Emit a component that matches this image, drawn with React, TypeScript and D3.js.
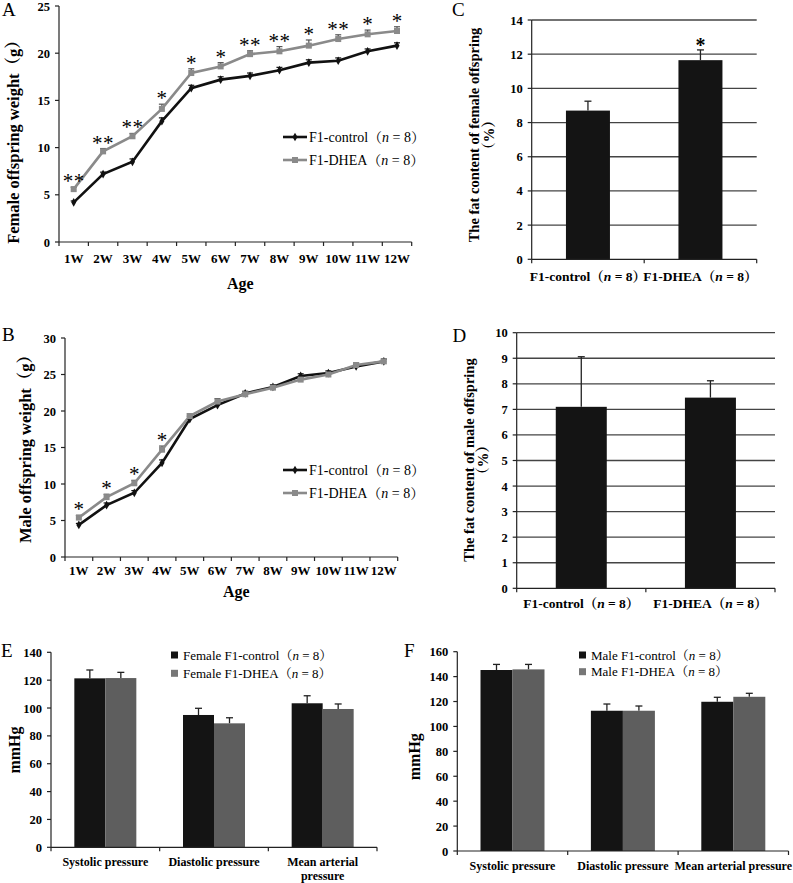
import React from 'react';
import * as d3 from 'd3';

const weeks = ['1W', '2W', '3W', '4W', '5W', '6W', '7W', '8W', '9W', '10W', '11W', '12W'];
const femaleControl = [4.2, 7.2, 8.5, 12.8, 16.3, 17.2, 17.6, 18.2, 19.0, 19.2, 20.2, 20.8];
const femaleControlErr = [0.15, 0.2, 0.3, 0.35, 0.3, 0.3, 0.3, 0.3, 0.3, 0.3, 0.25, 0.3];
const femaleDhea = [5.6, 9.6, 11.2, 14.1, 17.9, 18.6, 19.9, 20.2, 20.8, 21.5, 22.0, 22.35];
const femaleDheaErr = [0.2, 0.3, 0.3, 0.5, 0.45, 0.4, 0.35, 0.5, 0.6, 0.45, 0.45, 0.45];
const femaleStars = ['**', '**', '**', '*', '*', '*', '**', '**', '*', '**', '*', '*'];
const maleControl = [4.4, 7.1, 8.8, 12.9, 18.9, 20.8, 22.4, 23.3, 24.8, 25.2, 26.1, 26.8];
const maleControlErr = [0.2, 0.3, 0.3, 0.4, 0.4, 0.4, 0.3, 0.3, 0.3, 0.3, 0.3, 0.3];
const maleDhea = [5.4, 8.2, 10.1, 14.7, 19.3, 21.3, 22.3, 23.2, 24.3, 25.0, 26.3, 26.8];
const maleDheaErr = [0.3, 0.4, 0.4, 0.5, 0.3, 0.4, 0.3, 0.3, 0.3, 0.3, 0.3, 0.3];
const maleStars = ['*', '*', '*', '*', '', '', '', '', '', '', '', ''];

const fatGroups = ['F1-control', 'F1-DHEA'];
const femaleFat = [8.7, 11.65];
const femaleFatErr = [0.55, 0.6];
const femaleFatStars = ['', '*'];
const maleFat = [7.1, 7.46];
const maleFatErr = [1.96, 0.66];
const maleFatStars = ['', ''];

const bpCategories = ['Systolic pressure', 'Diastolic pressure', 'Mean arterial pressure'];
const femaleBpControl = [121.3, 95, 103.4];
const femaleBpControlErr = [6, 4.8, 5.4];
const femaleBpDhea = [121.5, 89, 99.3];
const femaleBpDheaErr = [4.1, 4, 3.6];
const maleBpControl = [145.3, 112.6, 119.8];
const maleBpControlErr = [4.5, 5.4, 3.6];
const maleBpDhea = [145.8, 112.6, 123.8];
const maleBpDheaErr = [4, 3.8, 2.8];

const FONT = "'Liberation Serif', 'Times New Roman', 'Noto Serif CJK SC', 'Noto Sans CJK SC', serif";
const BLACK = '#111';
const LINE_GREY = '#8a8a8a';
const BAR_GREY = '#5e5e5e';

function NLabel({ prefix }: { prefix: string }) {
  return (
    <>
      {prefix}（<tspan fontStyle="italic">n</tspan> = 8）
    </>
  );
}

type LineProps = {
  x0: number; x1: number; yTop: number; yBottom: number; yMax: number; yStep: number;
  control: number[]; controlErr: number[]; dhea: number[]; dheaErr: number[]; stars: string[];
  title: string; titleX: number; titleY: number; ageY: number; tickLabelY: number;
  legendY: number[]; letter: string; letterY: number; starGap: number;
};

function LineChart(p: LineProps) {
  const x = d3.scaleBand<string>().domain(weeks).range([p.x0, p.x1]).padding(0);
  const y = d3.scaleLinear().domain([0, p.yMax]).range([p.yBottom, p.yTop]);
  const cx = (w: string) => (x(w) as number) + x.bandwidth() / 2;
  const line = d3.line<number>().x((_, i) => cx(weeks[i])).y((v) => y(v));
  const ticks = d3.range(0, p.yMax + 0.001, p.yStep);
  const boundaries = weeks.map((w) => x(w) as number).concat([p.x1]);
  return (
    <g>
      <text x={2} y={p.letterY} fontSize={19} fontFamily={FONT}>{p.letter}</text>
      <line x1={p.x0} x2={p.x0} y1={p.yTop} y2={p.yBottom} stroke="#222" strokeWidth={1.2} />
      <line x1={p.x0} x2={p.x1} y1={p.yBottom} y2={p.yBottom} stroke="#222" strokeWidth={1.2} />
      {ticks.map((t) => (
        <g key={t}>
          <line x1={p.x0 - 4} x2={p.x0} y1={y(t)} y2={y(t)} stroke="#222" strokeWidth={1.2} />
          <text x={p.x0 - 9} y={y(t) + 4.5} textAnchor="end" fontSize={12.5} fontWeight="bold" fontFamily={FONT}>{t}</text>
        </g>
      ))}
      {boundaries.map((b, i) => (
        <line key={i} x1={b} x2={b} y1={p.yBottom} y2={p.yBottom + 4} stroke="#222" strokeWidth={1.2} />
      ))}
      {weeks.map((w) => (
        <text key={w} x={cx(w)} y={p.tickLabelY} textAnchor="middle" fontSize={13} fontWeight="bold" fontFamily={FONT}>{w}</text>
      ))}
      <text x={(p.x0 + p.x1) / 2 + 5} y={p.ageY} textAnchor="middle" fontSize={16} fontWeight="bold" fontFamily={FONT}>Age</text>
      <text transform={`translate(${p.titleX},${p.titleY}) rotate(-90)`} textAnchor="middle" fontSize={16.5} fontWeight="bold" fontFamily={FONT}>{p.title}</text>
      {p.control.map((v, i) => (
        <g key={'ce' + i}>
          <line x1={cx(weeks[i])} x2={cx(weeks[i])} y1={y(v)} y2={y(v + p.controlErr[i])} stroke={BLACK} strokeWidth={1.2} />
          <line x1={cx(weeks[i]) - 3} x2={cx(weeks[i]) + 3} y1={y(v + p.controlErr[i])} y2={y(v + p.controlErr[i])} stroke={BLACK} strokeWidth={1.2} />
        </g>
      ))}
      {p.dhea.map((v, i) => (
        <g key={'de' + i}>
          <line x1={cx(weeks[i])} x2={cx(weeks[i])} y1={y(v)} y2={y(v + p.dheaErr[i])} stroke="#555" strokeWidth={1.2} />
          <line x1={cx(weeks[i]) - 3} x2={cx(weeks[i]) + 3} y1={y(v + p.dheaErr[i])} y2={y(v + p.dheaErr[i])} stroke="#555" strokeWidth={1.2} />
        </g>
      ))}
      <path d={line(p.control) || ''} fill="none" stroke={BLACK} strokeWidth={2.6} />
      <path d={line(p.dhea) || ''} fill="none" stroke={LINE_GREY} strokeWidth={2.6} />
      {p.control.map((v, i) => (
        <path key={'cm' + i} d={d3.symbol(d3.symbolDiamond, 22)() || ''} transform={`translate(${cx(weeks[i])},${y(v)})`} fill={BLACK} />
      ))}
      {p.dhea.map((v, i) => (
        <rect key={'dm' + i} x={cx(weeks[i]) - 3} y={y(v) - 3} width={6} height={6} fill={LINE_GREY} />
      ))}
      {p.stars.map((s, i) => s ? (
        <text key={'s' + i} x={cx(weeks[i])} y={y(p.dhea[i] + p.dheaErr[i]) - p.starGap + 15} textAnchor="middle" fontSize={21} fill="#000" fontFamily={FONT} letterSpacing={s.length > 1 ? 0.5 : 0}>{s}</text>
      ) : null)}
      <line x1={283} x2={307} y1={p.legendY[0]} y2={p.legendY[0]} stroke={BLACK} strokeWidth={2.6} />
      <path d={d3.symbol(d3.symbolDiamond, 22)() || ''} transform={`translate(295,${p.legendY[0]})`} fill={BLACK} />
      <text x={309} y={p.legendY[0] + 5} fontSize={14} fontFamily={FONT}><NLabel prefix="F1-control" /></text>
      <line x1={283} x2={307} y1={p.legendY[1]} y2={p.legendY[1]} stroke={LINE_GREY} strokeWidth={2.6} />
      <rect x={292} y={p.legendY[1] - 3} width={6} height={6} fill={LINE_GREY} />
      <text x={309} y={p.legendY[1] + 5} fontSize={14} fontFamily={FONT}><NLabel prefix="F1-DHEA" /></text>
    </g>
  );
}

type FatProps = {
  x0: number; x1: number; yTop: number; yBottom: number; yMax: number; yStep: number;
  values: number[]; errs: number[]; stars: string[]; barW: number;
  title: string; titleX: number; title2X: number; titleY: number; labelY: number;
  letter: string; letterX: number; letterY: number;
};

function FatChart(p: FatProps) {
  const x = d3.scaleBand<string>().domain(fatGroups).range([p.x0, p.x1]).padding(0);
  const y = d3.scaleLinear().domain([0, p.yMax]).range([p.yBottom, p.yTop]);
  const cx = (g: string) => (x(g) as number) + x.bandwidth() / 2;
  const ticks = d3.range(0, p.yMax + 0.001, p.yStep);
  return (
    <g>
      <text x={p.letterX} y={p.letterY} fontSize={19} fontFamily={FONT}>{p.letter}</text>
      {ticks.filter((t) => t > 0).map((t) => (
        <line key={'g' + t} x1={p.x0} x2={p.x1} y1={y(t)} y2={y(t)} stroke="#444" strokeWidth={1.3} />
      ))}
      {ticks.map((t) => (
        <g key={t}>
          <line x1={p.x0 - 4} x2={p.x0} y1={y(t)} y2={y(t)} stroke="#222" strokeWidth={1.2} />
          <text x={p.x0 - 9} y={y(t) + 4.5} textAnchor="end" fontSize={12.5} fontWeight="bold" fontFamily={FONT}>{t}</text>
        </g>
      ))}
      {fatGroups.map((g, i) => (
        <g key={g}>
          <line x1={cx(g)} x2={cx(g)} y1={y(p.values[i])} y2={y(p.values[i] + p.errs[i])} stroke="#222" strokeWidth={1.3} />
          <line x1={cx(g) - 3.5} x2={cx(g) + 3.5} y1={y(p.values[i] + p.errs[i])} y2={y(p.values[i] + p.errs[i])} stroke="#222" strokeWidth={1.3} />
          <rect x={cx(g) - p.barW / 2} y={y(p.values[i])} width={p.barW} height={p.yBottom - y(p.values[i])} fill="#141414" />
          {p.stars[i] ? (
            <text x={cx(g)} y={y(p.values[i] + p.errs[i]) + 2} textAnchor="middle" fontSize={20} fontWeight="bold" fill="#000" fontFamily={FONT}>{p.stars[i]}</text>
          ) : null}
          <text x={cx(g)} y={p.labelY} textAnchor="middle" fontSize={13.5} fontWeight="bold" fontFamily={FONT}><NLabel prefix={g} /></text>
        </g>
      ))}
      <line x1={p.x0} x2={p.x0} y1={p.yTop} y2={p.yBottom} stroke="#222" strokeWidth={1.2} />
      <line x1={p.x0} x2={p.x1} y1={p.yBottom} y2={p.yBottom} stroke="#222" strokeWidth={1.2} />
      {[p.x0, (p.x0 + p.x1) / 2, p.x1].map((b, i) => (
        <line key={i} x1={b} x2={b} y1={p.yBottom} y2={p.yBottom + 4} stroke="#222" strokeWidth={1.2} />
      ))}
      <text transform={`translate(${p.titleX},${p.titleY}) rotate(-90)`} textAnchor="middle" fontSize={14.5} fontWeight="bold" fontFamily={FONT}>{p.title}</text>
      <text transform={`translate(${p.title2X},${p.titleY}) rotate(-90)`} textAnchor="middle" fontSize={14.5} fontWeight="bold" fontFamily={FONT}>（%）</text>
    </g>
  );
}

type BpProps = {
  x0: number; x1: number; yTop: number; yBottom: number; yMax: number; yStep: number;
  control: number[]; controlErr: number[]; dhea: number[]; dheaErr: number[]; barW: number;
  titleX: number; titleY: number; labelY: number; wrapLast: boolean;
  legendX: number; legendY: number[]; legendPrefix: string;
  letter: string; letterX: number; letterY: number;
};

function BpChart(p: BpProps) {
  const x = d3.scaleBand<string>().domain(bpCategories).range([p.x0, p.x1]).padding(0);
  const y = d3.scaleLinear().domain([0, p.yMax]).range([p.yBottom, p.yTop]);
  const cx = (g: string) => (x(g) as number) + x.bandwidth() / 2;
  const ticks = d3.range(0, p.yMax + 0.001, p.yStep);
  const series = [
    { vals: p.control, errs: p.controlErr, color: '#141414', off: -p.barW / 2 },
    { vals: p.dhea, errs: p.dheaErr, color: BAR_GREY, off: p.barW / 2 },
  ];
  const boundaries = bpCategories.map((c) => x(c) as number).concat([p.x1]);
  return (
    <g>
      <text x={p.letterX} y={p.letterY} fontSize={19} fontFamily={FONT}>{p.letter}</text>
      {ticks.map((t) => (
        <g key={t}>
          <line x1={p.x0 - 4} x2={p.x0} y1={y(t)} y2={y(t)} stroke="#222" strokeWidth={1.2} />
          <text x={p.x0 - 9} y={y(t) + 4.5} textAnchor="end" fontSize={12.5} fontWeight="bold" fontFamily={FONT}>{t}</text>
        </g>
      ))}
      {series.map((s, si) => bpCategories.map((c, i) => {
        const bx = cx(c) + s.off;
        return (
          <g key={si + c}>
            <line x1={bx} x2={bx} y1={y(s.vals[i])} y2={y(s.vals[i] + s.errs[i])} stroke="#222" strokeWidth={1.3} />
            <line x1={bx - 3.5} x2={bx + 3.5} y1={y(s.vals[i] + s.errs[i])} y2={y(s.vals[i] + s.errs[i])} stroke="#222" strokeWidth={1.3} />
            <rect x={bx - p.barW / 2} y={y(s.vals[i])} width={p.barW} height={p.yBottom - y(s.vals[i])} fill={s.color} />
          </g>
        );
      }))}
      <line x1={p.x0} x2={p.x0} y1={p.yTop} y2={p.yBottom} stroke="#222" strokeWidth={1.2} />
      <line x1={p.x0} x2={p.x1} y1={p.yBottom} y2={p.yBottom} stroke="#222" strokeWidth={1.2} />
      {boundaries.map((b, i) => (
        <line key={i} x1={b} x2={b} y1={p.yBottom} y2={p.yBottom + 4} stroke="#222" strokeWidth={1.2} />
      ))}
      {bpCategories.map((c, i) => {
        if (p.wrapLast && i === bpCategories.length - 1) {
          return (
            <text key={c} x={cx(c)} y={p.labelY} textAnchor="middle" fontSize={12} fontWeight="bold" fontFamily={FONT}>
              <tspan x={cx(c)}>Mean arterial</tspan>
              <tspan x={cx(c)} dy={14}>pressure</tspan>
            </text>
          );
        }
        return (
          <text key={c} x={cx(c)} y={p.labelY} textAnchor="middle" fontSize={12} fontWeight="bold" fontFamily={FONT}>{c}</text>
        );
      })}
      <text transform={`translate(${p.titleX},${p.titleY}) rotate(-90)`} textAnchor="middle" fontSize={16} fontWeight="bold" fontFamily={FONT}>mmHg</text>
      {[{ c: '#141414', l: 'F1-control' }, { c: '#777', l: 'F1-DHEA' }].map((e, i) => (
        <g key={i}>
          <rect x={p.legendX} y={p.legendY[i] - 3.5} width={7} height={7} fill={e.c} />
          <text x={p.legendX + 12} y={p.legendY[i] + 4.5} fontSize={13} fontFamily={FONT}><NLabel prefix={`${p.legendPrefix} ${e.l}`} /></text>
        </g>
      ))}
    </g>
  );
}

export default function App() {
  return (
    <svg width={793} height={883} style={{ display: 'block', position: 'absolute', left: 0, top: 0, background: '#fff' }}>
      <rect width={793} height={883} fill="#fff" />
      <LineChart x0={59} x1={411.7} yTop={6} yBottom={242} yMax={25} yStep={5}
        control={femaleControl} controlErr={femaleControlErr} dhea={femaleDhea} dheaErr={femaleDheaErr} stars={femaleStars}
        title="Female offspring weight（g）" titleX={19} titleY={138} ageY={289} tickLabelY={263}
        legendY={[137, 160]} letter="A" letterY={16} starGap={14} />
      <LineChart x0={65} x1={397.7} yTop={338} yBottom={557} yMax={30} yStep={5}
        control={maleControl} controlErr={maleControlErr} dhea={maleDhea} dheaErr={maleDheaErr} stars={maleStars}
        title="Male offspring weight（g）" titleX={31} titleY={445} ageY={597} tickLabelY={575}
        legendY={[470, 493]} letter="B" letterY={341} starGap={14} />
      <FatChart x0={531.7} x1={756.7} yTop={20} yBottom={259.3} yMax={14} yStep={2}
        values={femaleFat} errs={femaleFatErr} stars={femaleFatStars} barW={44}
        title="The fat content of female offspring" titleX={479} title2X={494} titleY={135} labelY={281}
        letter="C" letterX={452} letterY={16} />
      <FatChart x0={516.7} x1={775} yTop={332.7} yBottom={588.3} yMax={10} yStep={1}
        values={maleFat} errs={maleFatErr} stars={maleFatStars} barW={51}
        title="The fat content of male offspring" titleX={474} title2X={488} titleY={460} labelY={607.5}
        letter="D" letterX={452.5} letterY={341.5} />
      <BpChart x0={51} x1={377} yTop={652.3} yBottom={847.3} yMax={140} yStep={20}
        control={femaleBpControl} controlErr={femaleBpControlErr} dhea={femaleBpDhea} dheaErr={femaleBpDheaErr} barW={31}
        titleX={20} titleY={750} labelY={866} wrapLast={true}
        legendX={171} legendY={[655, 673.3]} legendPrefix="Female"
        letter="E" letterX={1} letterY={657} />
      <BpChart x0={457.3} x1={788.5} yTop={651.7} yBottom={851} yMax={160} yStep={20}
        control={maleBpControl} controlErr={maleBpControlErr} dhea={maleBpDhea} dheaErr={maleBpDheaErr} barW={32}
        titleX={420} titleY={756.7} labelY={869.5} wrapLast={false}
        legendX={579} legendY={[655, 671.7]} legendPrefix="Male"
        letter="F" letterX={404} letterY={657} />
    </svg>
  );
}
